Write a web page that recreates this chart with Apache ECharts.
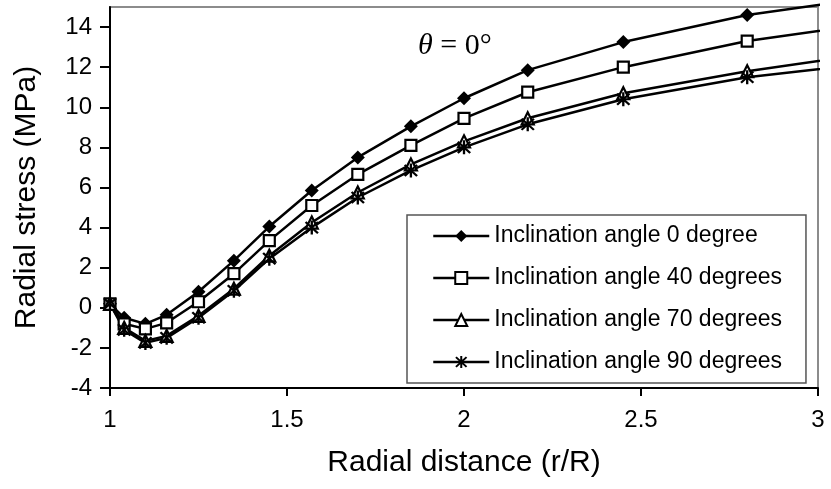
<!DOCTYPE html>
<html>
<head>
<meta charset="utf-8">
<script src="https://cdn.jsdelivr.net/npm/echarts@6/dist/echarts.min.js"></script>
<style>
html,body{margin:0;padding:0;background:#fff;}
#chart{width:831px;height:489px;}
</style>
</head>
<body>
<div id="chart"></div>
<script>
// ---- data ----
const radialDistance = [1, 1.04, 1.1, 1.16, 1.25, 1.35, 1.45, 1.57, 1.7, 1.85, 2.0, 2.18, 2.45, 2.8, 3.2];
const angle0  = [0.2, -0.5, -0.8, -0.35, 0.8, 2.35, 4.05, 5.85, 7.5, 9.05, 10.45, 11.85, 13.25, 14.6, 15.6];
const angle40 = [0.2, -0.8, -1.05, -0.75, 0.3, 1.7, 3.35, 5.1, 6.65, 8.1, 9.45, 10.75, 12.0, 13.3, 14.3];
const angle70 = [0.2, -1.0, -1.65, -1.4, -0.4, 0.95, 2.6, 4.25, 5.75, 7.15, 8.3, 9.45, 10.7, 11.8, 12.8];
const angle90 = [0.2, -1.1, -1.75, -1.5, -0.5, 0.85, 2.45, 4.0, 5.5, 6.85, 8.0, 9.15, 10.4, 11.5, 12.3];
const seriesNames = ['Inclination angle 0 degree', 'Inclination angle 40 degrees', 'Inclination angle 70 degrees', 'Inclination angle 90 degrees'];
const yTicks = [-4, -2, 0, 2, 4, 6, 8, 10, 12, 14];
const xTicks = [1, 1.5, 2, 2.5, 3];

const pair = (ys) => radialDistance.map((x, i) => [x, ys[i]]);
const asterisk = 'path://M8.5,0L11.5,0L11.5,20L8.5,20Z M3.1,1L19,16.9L16.9,19L1,3.1Z M16.9,1L19,3.1L3.1,19L1,16.9Z';

const FONT = 'Liberation Sans, Arial, sans-serif';
const SERIF = 'Liberation Serif, Times New Roman, serif';
const chart = echarts.init(document.getElementById('chart'), null, {renderer: 'canvas'});

function mk(name, ys, symbol, size, fill) {
  return {
    name: name, type: 'line', data: pair(ys), clip: false,
    symbol: symbol, symbolSize: size, showAllSymbol: true,
    lineStyle: {color: '#000', width: 2.5},
    itemStyle: {color: fill, borderColor: '#000', borderWidth: fill === '#000' ? 0 : 2.2},
    emphasis: {disabled: true}, z: 3
  };
}

chart.setOption({
  animation: false,
  backgroundColor: '#fff',
  grid: {left: 110, top: 7, right: 13, bottom: 101, show: true, borderColor: '#8c8c8c', borderWidth: 2},
  xAxis: {
    type: 'value', min: 1, max: 3, interval: 0.5,
    name: 'Radial distance (r/R)', nameLocation: 'middle', nameGap: 60,
    nameTextStyle: {fontFamily: FONT, fontSize: 30, color: '#000'},
    axisLine: {show: true, onZero: false, lineStyle: {color: '#000', width: 2}},
    axisTick: {show: true, inside: false, length: 8, lineStyle: {color: '#000', width: 2}, customValues: xTicks},
    axisLabel: {fontFamily: FONT, fontSize: 24, color: '#000', margin: 20, customValues: xTicks},
    splitLine: {show: false}
  },
  yAxis: {
    type: 'value', min: -4, max: 15, interval: 2,
    name: 'Radial stress (MPa)', nameLocation: 'middle', nameGap: 68,
    nameTextStyle: {fontFamily: FONT, fontSize: 30, color: '#000'},
    axisLine: {show: true, onZero: false, lineStyle: {color: '#000', width: 2}},
    axisTick: {show: true, inside: false, length: 10, lineStyle: {color: '#000', width: 2}, customValues: yTicks},
    axisLabel: {fontFamily: FONT, fontSize: 24, color: '#000', margin: 18, customValues: yTicks},
    splitLine: {show: false}
  },
  legend: {
    orient: 'vertical', left: 407, top: 215,
    padding: [9, 24, 9, 25],
    itemWidth: 56, itemHeight: 15, itemGap: 18,
    backgroundColor: '#fff', borderColor: '#555', borderWidth: 1.5,
    lineStyle: {color: '#000', width: 2.5},
    textStyle: {fontFamily: FONT, fontSize: 23, color: '#000', lineHeight: 24},
    data: seriesNames,
    selectedMode: false
  },
  graphic: [{
    type: 'text', left: 418, top: 31, z: 10,
    style: {
      text: '{t|θ} = 0°',
      fontFamily: SERIF, fontSize: 30, fill: '#000',
      rich: {t: {fontStyle: 'italic', fontFamily: SERIF, fontSize: 30}}
    }
  }],
  series: [
    mk(seriesNames[0], angle0, 'diamond', 14, '#000'),
    mk(seriesNames[1], angle40, 'rect', 11, '#fff'),
    mk(seriesNames[2], angle70, 'triangle', 12, '#fff'),
    mk(seriesNames[3], angle90, asterisk, 14, '#000')
  ]
});
</script>
</body>
</html>
